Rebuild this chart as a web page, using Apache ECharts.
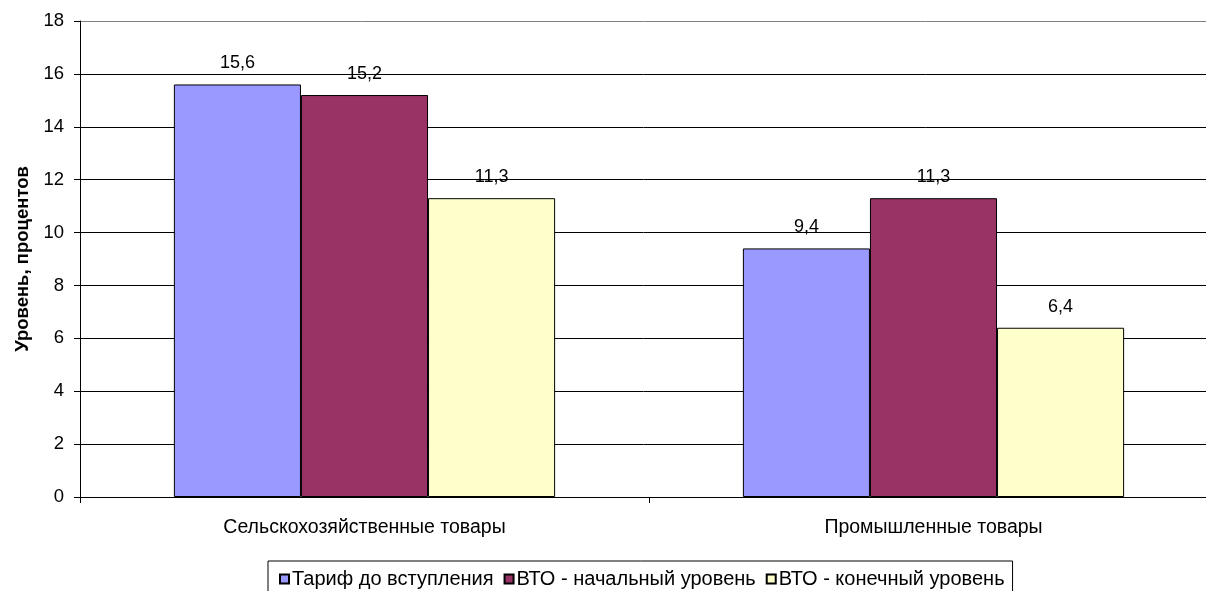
<!DOCTYPE html>
<html>
<head>
<meta charset="utf-8">
<script src="https://cdn.jsdelivr.net/npm/echarts@6/dist/echarts.min.js"></script>
<style>
html,body{margin:0;padding:0;background:#fff;}
#chart{width:1206px;height:591px;}
</style>
</head>
<body>
<div id="chart"></div>
<script>
const categories = ['Сельскохозяйственные товары', 'Промышленные товары'];
const seriesNames = ['Тариф до вступления', 'ВТО - начальный уровень', 'ВТО - конечный уровень'];
const tariffBefore = [15.6, 9.4];
const wtoInitial = [15.2, 11.3];
const wtoFinal = [11.3, 6.4];
const seriesColors = ['#9999FF', '#993366', '#FFFFCC'];
const yTicks = [0, 2, 4, 6, 8, 10, 12, 14, 16, 18];
const yAxisTitle = 'Уровень, процентов';

const FONT = 'Arial, "Liberation Sans", sans-serif';
const chart = echarts.init(document.getElementById('chart'), null, {renderer: 'canvas'});

const dataSets = [tariffBefore, wtoInitial, wtoFinal];
const splitColors = yTicks.map((v, i) => i === yTicks.length - 1 ? '#808080' : '#000000');

chart.setOption({
  animation: false,
  textStyle: {fontFamily: FONT},
  grid: {left: 80, width: 1138, top: 21, bottom: 94, containLabel: false, outerBoundsMode: 'none'},
  legend: {
    data: seriesNames,
    left: 268,
    top: 561,
    orient: 'horizontal',
    itemWidth: 9,
    itemHeight: 9,
    itemGap: 10,
    padding: [8, 8, 8, 11],
    borderColor: '#000',
    borderWidth: 1,
    icon: 'rect',
    textStyle: {fontFamily: FONT, fontSize: 20, color: '#000', padding: [0, 0, 0, -2]}
  },
  xAxis: {
    type: 'category',
    data: categories,
    axisLine: {lineStyle: {color: '#000', width: 1}},
    axisTick: {show: true, length: 6, lineStyle: {color: '#000'}},
    axisLabel: {fontFamily: FONT, fontSize: 19.5, color: '#000', margin: 21},
    splitLine: {show: false}
  },
  yAxis: {
    type: 'value',
    min: yTicks[0],
    max: yTicks[yTicks.length - 1],
    interval: 2,
    name: yAxisTitle,
    nameLocation: 'middle',
    nameGap: 48,
    nameRotate: 90,
    nameTextStyle: {fontFamily: FONT, fontSize: 18.5, fontWeight: 'bold', color: '#000'},
    axisLine: {show: true, lineStyle: {color: '#000', width: 1}},
    axisTick: {show: true, length: 6, lineStyle: {color: '#000'}},
    axisLabel: {fontFamily: FONT, fontSize: 18.5, color: '#000', margin: 16},
    splitLine: {show: true, lineStyle: {color: splitColors, width: 1}}
  },
  series: seriesNames.map((name, i) => ({
    name: name,
    type: 'bar',
    data: dataSets[i],
    barGap: '0%',
    barCategoryGap: '33%',
    itemStyle: {color: seriesColors[i], borderColor: '#000', borderWidth: 1},
    label: {
      show: true,
      position: 'top',
      distance: 12,
      fontFamily: FONT,
      fontSize: 18,
      color: '#000',
      formatter: p => String(p.value).replace('.', ',')
    }
  }))
});
</script>
</body>
</html>
